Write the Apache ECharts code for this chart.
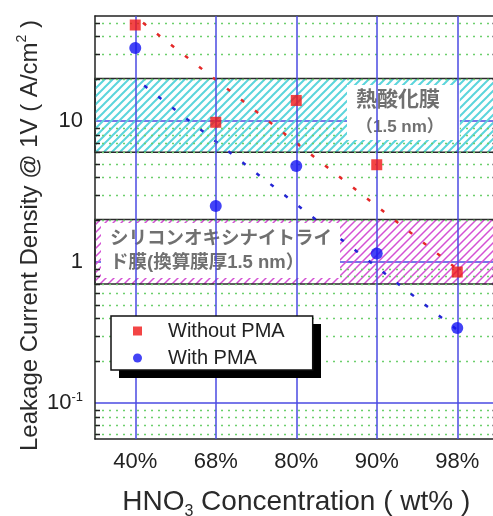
<!DOCTYPE html>
<html>
<head>
<meta charset="utf-8">
<script src="https://cdn.jsdelivr.net/npm/echarts@6/dist/echarts.min.js"></script>
<style>
  html, body { margin: 0; padding: 0; background: #fff; }
  #chart { width: 493px; height: 516px; }
</style>
</head>
<body>
<div id="chart"></div>
<script>
// HNO3 concentration categories
const categories = ['40%', '68%', '80%', '90%', '98%'];
// Leakage current density at 1 V (A/cm^2)
const withoutPMA = [48, 9.8, 14, 4.9, 0.85];
const withPMA = [33, 2.5, 4.8, 1.15, 0.34];
// Guide lines: value at the first and at the last category
const trendWithout = [55, 0.89];
const trendWith = [20, 0.33];
// Reference bands (A/cm^2)
const oxideBand = [6, 20];
const oxynitrideBand = [0.7, 2];
// Log axis range and the 2..9 sub-decade gridlines
const yRange = [0.0556, 55.6];
const minorTickValues = [0.06, 0.07, 0.08, 0.09,
  0.2, 0.3, 0.4, 0.5, 0.6, 0.7, 0.8, 0.9,
  2, 3, 4, 5, 6, 7, 8, 9,
  20, 30, 40, 50];

const FONT = '"Liberation Sans", Arial, sans-serif';
const CJK = '"Liberation Sans", "Noto Sans CJK JP", sans-serif';
const AXIS_COLOR = '#222';
const GRID_BLUE = '#4a4ae2';

// Diagonal hatch pattern tile
function hatch(color, width, size) {
  const c = document.createElement('canvas');
  c.width = size; c.height = size;
  const g = c.getContext('2d');
  g.strokeStyle = color;
  g.lineWidth = width;
  g.beginPath();
  g.moveTo(0, size); g.lineTo(size, 0);
  g.moveTo(-size / 2, size / 2); g.lineTo(size / 2, -size / 2);
  g.moveTo(size / 2, size * 1.5); g.lineTo(size * 1.5, size / 2);
  g.stroke();
  return c;
}
const cyanHatch = { image: hatch('#5cd5dc', 2.0, 8), repeat: 'repeat' };
const magentaHatch = { image: hatch('#d451d4', 1.5, 8), repeat: 'repeat' };

const chart = echarts.init(document.getElementById('chart'), null, { renderer: 'canvas' });

function yLabel(v) {
  if (Math.abs(v - 0.1) < 1e-9) return '{b|10}{s|-1}';
  if (Math.abs(v - 1) < 1e-9) return '{b|1}';
  if (Math.abs(v - 10) < 1e-9) return '{b|10}';
  return '';
}

const option = {
  backgroundColor: '#fff',
  animation: false,
  grid: { left: 95, top: 16, right: -4.5, bottom: 77, containLabel: false, outerBoundsMode: 'none' },
  legend: {
    orient: 'vertical',
    left: 111, top: 316,
    z: 10,
    data: [{ name: 'Without PMA', icon: 'rect' }, { name: 'With PMA', icon: 'circle' }],
    itemWidth: 9, itemHeight: 9, itemGap: 5,
    padding: [4, 28, 1, 22],
    backgroundColor: '#fff',
    borderColor: '#111', borderWidth: 1.5,
    textStyle: { fontFamily: FONT, fontSize: 20, color: '#222', lineHeight: 22, padding: [0, 0, 0, 21] }
  },
  xAxis: [{
    type: 'category',
    data: categories,
    boundaryGap: true,
    axisLine: { lineStyle: { color: AXIS_COLOR, width: 1.5 } },
    axisTick: { inside: true, length: 5, lineStyle: { color: AXIS_COLOR, width: 1.5 } },
    axisLabel: { margin: 12, fontSize: 22, fontFamily: FONT, color: '#222' },
    splitLine: { show: false },
    name: '{m|HNO}{sub|3}{m| Concentration ( wt% )}',
    nameLocation: 'middle',
    nameGap: 45,
    nameMoveOverlap: false,
    nameTextStyle: {
      rich: {
        m: { fontSize: 28, fontFamily: FONT, color: '#2a2a2a', lineHeight: 36, verticalAlign: 'middle' },
        sub: { fontSize: 16, fontFamily: FONT, color: '#2a2a2a', lineHeight: 16, verticalAlign: 'bottom' }
      }
    }
  }, {
    type: 'category',
    data: categories,
    position: 'top',
    boundaryGap: true,
    axisLine: { lineStyle: { color: AXIS_COLOR, width: 1.5 } },
    axisTick: { inside: true, length: 5, lineStyle: { color: AXIS_COLOR, width: 1.5 } },
    axisLabel: { show: false },
    splitLine: { show: false }
  }],
  yAxis: [{
    type: 'log',
    logBase: 10,
    min: yRange[0], max: yRange[1],
    axisLine: { show: true, lineStyle: { color: AXIS_COLOR, width: 1.5 } },
    axisTick: { inside: true, length: 8, lineStyle: { color: AXIS_COLOR, width: 1.5 } },
    minorTick: { show: false },
    axisLabel: {
      showMinLabel: false, showMaxLabel: false,
      margin: 12,
      formatter: yLabel,
      rich: {
        b: { fontSize: 22, fontFamily: FONT, color: '#222', lineHeight: 24 },
        s: { fontSize: 13, fontFamily: FONT, color: '#222', lineHeight: 24, verticalAlign: 'top' }
      }
    },
    splitLine: { show: true, showMinLine: false, showMaxLine: false, lineStyle: { color: GRID_BLUE, width: 1.5 } },
    name: '{m|Leakage Current Density @ 1V ( A/cm}{sup|2}{m| )}',
    nameLocation: 'middle',
    nameGap: 50,
    nameMoveOverlap: false,
    nameTextStyle: {
      padding: [0, 16, 0, 0],
      rich: {
        m: { fontSize: 24, fontFamily: FONT, color: '#2a2a2a', lineHeight: 30, verticalAlign: 'middle' },
        sup: { fontSize: 14, fontFamily: FONT, color: '#2a2a2a', lineHeight: 14, verticalAlign: 'top' }
      }
    }
  }, {
    type: 'log',
    logBase: 10,
    position: 'right',
    min: yRange[0], max: yRange[1],
    axisLine: { show: true, lineStyle: { color: AXIS_COLOR, width: 1.5 } },
    axisTick: { inside: true, length: 8, lineStyle: { color: AXIS_COLOR, width: 1.5 } },
    axisLabel: { show: false },
    splitLine: { show: false }
  }],
  graphic: [{
    // solid drop shadow behind the legend box
    type: 'rect',
    z: 9,
    silent: true,
    shape: { x: 119, y: 324, width: 202, height: 54 },
    style: { fill: '#000' }
  }, {
    type: 'text',
    x: 347, y: 85, z: 5,
    style: {
      text: '{a|熱酸化膜}\n{b|（1.5 nm）}',
      backgroundColor: '#fff',
      padding: [1, 16, 0, 9],
      rich: {
        a: { fontSize: 21, fontWeight: 'bold', fontFamily: CJK, fill: '#707070', lineHeight: 28 },
        b: { fontSize: 17, fontWeight: 'bold', fontFamily: CJK, fill: '#707070', lineHeight: 26 }
      }
    }
  }, {
    type: 'text',
    x: 101, y: 223, z: 5,
    style: {
      text: '{c|シリコンオキシナイトライ}\n{c|ド膜(換算膜厚1.5 nm）}',
      backgroundColor: '#fff',
      padding: [4, 8, 3, 9],
      rich: {
        c: { fontSize: 18.5, fontWeight: 'bold', fontFamily: CJK, fill: '#707070', lineHeight: 24 }
      }
    }
  }],
  series: [{
    // sub-decade dotted gridlines
    type: 'custom',
    coordinateSystem: 'cartesian2d',
    silent: true,
    z: 1,
    data: minorTickValues.map(v => [0, v]),
    encode: { x: 0, y: 1 },
    renderItem(params, api) {
      const cs = params.coordSys;
      const y = Math.round(api.coord([0, api.value(1)])[1]) + 0.5;
      return {
        type: 'line',
        shape: { x1: cs.x, y1: y, x2: cs.x + cs.width, y2: y },
        style: { stroke: '#6ccf6c', lineWidth: 1.5, lineDash: [2, 5] }
      };
    }
  }, {
    // vertical gridlines through each concentration
    type: 'line',
    data: [],
    silent: true,
    z: 1,
    markLine: {
      silent: true,
      symbol: 'none',
      label: { show: false },
      lineStyle: { color: GRID_BLUE, width: 1.5, type: 'solid' },
      data: categories.map(c => ({ xAxis: c }))
    }
  }, {
    // hatched reference bands
    type: 'line',
    data: [],
    silent: true,
    z: 2,
    markArea: {
      silent: true,
      label: { show: false },
      data: [
        [{ yAxis: oxideBand[0], itemStyle: { color: cyanHatch, borderColor: '#2a2a2a', borderWidth: 1.5 } }, { yAxis: oxideBand[1] }],
        [{ yAxis: oxynitrideBand[0], itemStyle: { color: magentaHatch, borderColor: '#2a2a2a', borderWidth: 1.5 } }, { yAxis: oxynitrideBand[1] }]
      ]
    }
  }, {
    // sub-decade inward ticks on both sides
    type: 'custom',
    coordinateSystem: 'cartesian2d',
    silent: true,
    z: 7,
    data: minorTickValues.map(v => [0, v]),
    encode: { x: 0, y: 1 },
    renderItem(params, api) {
      const cs = params.coordSys;
      const y = Math.round(api.coord([0, api.value(1)])[1]) + 0.5;
      return {
        type: 'group',
        children: [
          { type: 'line', shape: { x1: cs.x, y1: y, x2: cs.x + 5, y2: y }, style: { stroke: AXIS_COLOR, lineWidth: 1.5 } },
          { type: 'line', shape: { x1: cs.x + cs.width - 5, y1: y, x2: cs.x + cs.width, y2: y }, style: { stroke: AXIS_COLOR, lineWidth: 1.5 } }
        ]
      };
    }
  }, {
    name: 'Without PMA guide',
    type: 'line',
    silent: true,
    z: 4,
    symbol: 'none',
    data: [[categories[0], trendWithout[0]], [categories[categories.length - 1], trendWithout[1]]],
    lineStyle: { color: '#e42828', width: 2.5, type: [4, 13.8], dashOffset: 8 }
  }, {
    name: 'With PMA guide',
    type: 'line',
    silent: true,
    z: 4,
    symbol: 'none',
    data: [[categories[0], trendWith[0]], [categories[categories.length - 1], trendWith[1]]],
    lineStyle: { color: '#2424d4', width: 2.5, type: [4, 13.8], dashOffset: 6.5 }
  }, {
    name: 'Without PMA',
    type: 'scatter',
    z: 6,
    symbol: 'rect',
    symbolSize: 11,
    data: withoutPMA,
    itemStyle: { color: '#f01616' }
  }, {
    name: 'With PMA',
    type: 'scatter',
    z: 6,
    symbol: 'circle',
    symbolSize: 12,
    data: withPMA,
    itemStyle: { color: '#1414f2' }
  }]
};

chart.setOption(option);
</script>
</body>
</html>
